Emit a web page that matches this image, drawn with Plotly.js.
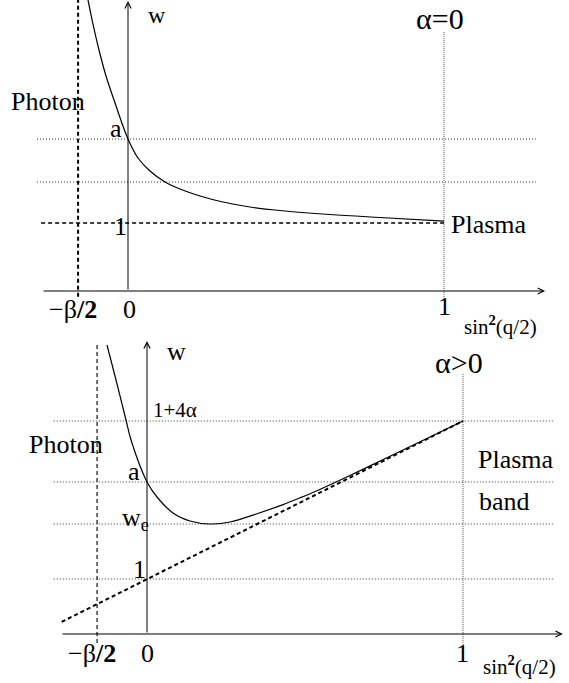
<!DOCTYPE html>
<html><head><meta charset="utf-8">
<script src="https://cdn.plot.ly/plotly-3.0.1.min.js"></script>
<style>html,body{margin:0;padding:0;background:#fff}</style>
</head><body><div id="chart" style="width:569px;height:683px"></div>
<script>
const W = 569, H = 683;

// ---- data (x = sin^2(q/2), w = frequency) ----
const betaHalf = -0.158;
// top panel (alpha = 0)
const topCurveX = [-0.1266,-0.1108,-0.0918,-0.0696,-0.0443,0,0.0316,0.0696,0.1171,0.1646,0.2278,0.3006,0.3861,0.4810,0.6392,0.7975,1.0];
const topCurveW = [4.279,3.926,3.544,3.162,2.809,2.235,1.956,1.765,1.603,1.5,1.397,1.309,1.235,1.184,1.125,1.081,1.029];
const topLevelW = [2.235, 1.603];
const topPlasmaW = 1;
// bottom panel (alpha > 0)
const botCurveX = [-0.1266,-0.0981,-0.0665,-0.0506,0,0.0316,0.0823,0.1361,0.1994,0.2627,0.3481,0.4304,0.4842,0.5380,0.6203,0.7690,0.8956,1.0];
const botCurveW = [5.255,4.618,3.891,3.527,2.764,2.491,2.2,2.055,2.0,2.036,2.187,2.353,2.476,2.605,2.822,3.231,3.582,3.873];
const botLevelW = [3.873, 2.764, 2.0, 1.0];
const botPlasmaX = [-0.27, 1];
const botPlasmaW = [0.22, 3.873];
// labels
const xTickText = ['−β<b>/2</b>', '0', '1'];
const xTitle = 'sin<sup><b>2</b></sup>(q/2)';
const yTitle = 'w';
const topLevelText = ['a', '1'];
const botLevelText = ['1+4α', 'a', 'w<sub>e</sub>', '1'];
const panelText = ['α=0', 'α>0'];

// ---- styling helpers ----
function line(xa, ya, xs, ys, width, dash, color, shape) {
  const ln = {color:color||'#000', width:width, dash:dash||'solid'};
  if (shape) { ln.shape = shape; ln.smoothing = 1; }
  return {type:'scatter', mode:'lines', xaxis:xa, yaxis:ya, x:xs, y:ys,
    line:ln, hoverinfo:'skip', showlegend:false};
}
function lab(text, px, py, size, xanchor, yanchor) {
  return {text:text, xref:'paper', yref:'paper', x:px/W, y:1-py/H,
    xanchor:xanchor||'center', yanchor:yanchor||'middle', showarrow:false,
    font:{size:size, color:'#000'}};
}
function arrow(xr, yr, x, y, ax, ay) {
  return {text:'', xref:xr, yref:yr, axref:xr, ayref:yr, x:x, y:y, ax:ax, ay:ay,
    showarrow:true, arrowhead:5, arrowsize:1.2, arrowwidth:1, arrowcolor:'#000'};
}

const traces = [];
// top panel
traces.push(line('x','y',[betaHalf,betaHalf],[4.4,-0.103],2,'4px,3px'));
traces.push(line('x','y',[1,1],[3.809,-0.132],1,'1px,1px','#555'));
topLevelW.forEach(w => traces.push(line('x','y',[-0.288,1.291],[w,w],1,'1px,2px','#333')));
traces.push(line('x','y',[-0.275,1],[topPlasmaW,topPlasmaW],1.5,'4px,3px'));
traces.push(line('x','y',topCurveX,topCurveW,1.2,'solid','#000','spline'));
// bottom panel
traces.push(line('x2','y2',[betaHalf,betaHalf],[5.255,-0.2],1.2,'4px,3px','#111'));
traces.push(line('x2','y2',[1,1],[4.727,-0.291],1,'1px,1px','#555'));
botLevelW.forEach(w => traces.push(line('x2','y2',[-0.295,1.285],[w,w],1,'1px,2px','#333')));
traces.push(line('x2','y2',botPlasmaX,botPlasmaW,2,'4px,3px'));
traces.push(line('x2','y2',botCurveX,botCurveW,1.2,'solid','#000','spline'));

const annotations = [
  arrow('x','y',1.32,0,-0.272,0),
  arrow('x','y',0,4.265,0,0),
  arrow('x2','y2',1.316,0,-0.272,0),
  arrow('x2','y2',0,5.327,0,0),
  // top labels
  lab(yTitle,157,0,24,'center','top'),
  lab(panelText[0],440,18,30),
  lab('Photon',48,101,26),
  lab(topLevelText[0],116,128,26),
  lab(topLevelText[1],120,226,26),
  lab('Plasma',449,224,26,'left'),
  lab(xTickText[0],73,309,26),
  lab(xTickText[1],129.5,309,26),
  lab(xTickText[2],444,306,26),
  lab(xTitle,462,325,21,'left'),
  // bottom labels
  lab(yTitle,176,351,26),
  lab(panelText[1],459,362,30),
  lab(botLevelText[0],175,410,21),
  lab('Photon',66,444,26),
  lab(botLevelText[1],134,471,26),
  lab(botLevelText[2],135,519,26),
  lab(botLevelText[3],139,569,26),
  lab('Plasma',476,459,26,'left'),
  lab('band',477,501,26,'left'),
  lab(xTickText[0],92,653,26),
  lab(xTickText[1],147.5,653,26),
  lab(xTickText[2],462,653,26),
  lab(xTitle,481,665,21,'left')
];

const ax = {visible:false, fixedrange:true, showgrid:false, zeroline:false};
const layout = {
  width:W, height:H, autosize:false,
  margin:{l:0,r:0,t:0,b:0,pad:0},
  paper_bgcolor:'#fff', plot_bgcolor:'rgba(0,0,0,0)',
  font:{family:'Liberation Serif, Times New Roman, serif', color:'#000'},
  showlegend:false,
  xaxis:Object.assign({domain:[0,1], range:[-0.4051,1.3956], anchor:'y'},ax),
  yaxis:Object.assign({domain:[0.5022,1], range:[-0.7206,4.2794], anchor:'x'},ax),
  xaxis2:Object.assign({domain:[0,1], range:[-0.4652,1.3354], anchor:'y2'},ax),
  yaxis2:Object.assign({domain:[0,0.5022], range:[-0.8909,5.3455], anchor:'x2'},ax),
  annotations:annotations
};
Plotly.newPlot('chart', traces, layout, {staticPlot:true, displayModeBar:false});
</script></body></html>
